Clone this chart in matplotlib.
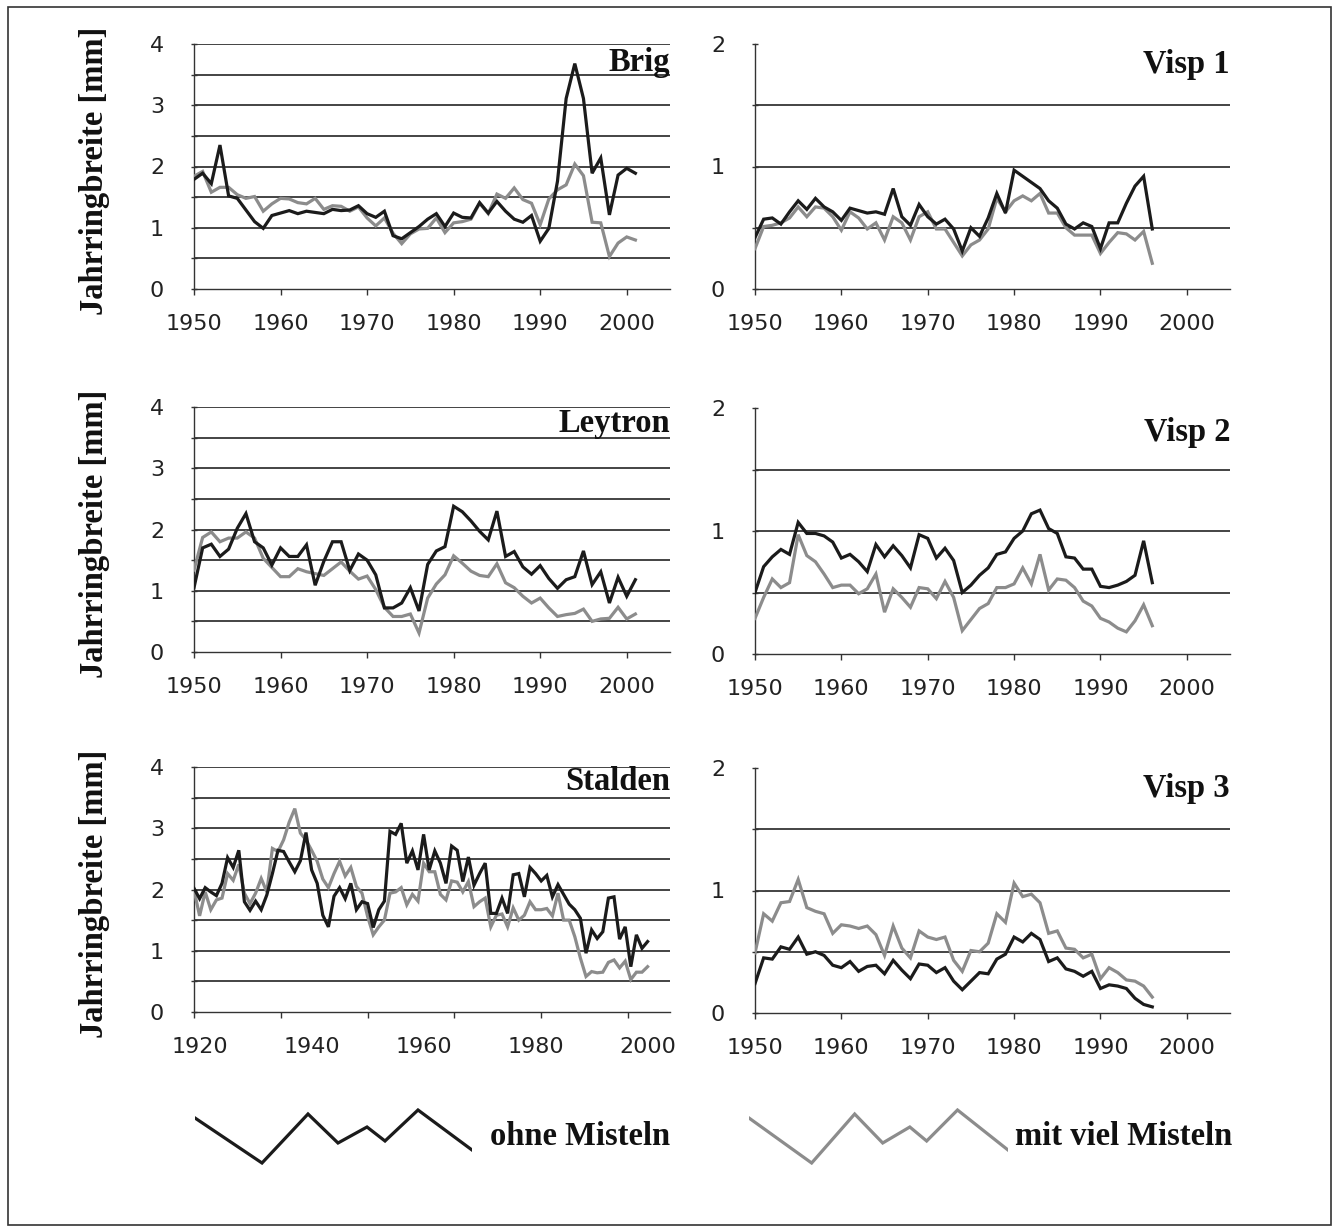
import numpy as np
import matplotlib
matplotlib.use("Agg")
import matplotlib.pyplot as plt
from matplotlib.patches import Rectangle

# ---- data (Jahrringbreite in mm) ----
years_brig = list(range(1950, 2002))
years_leytron = list(range(1950, 2002))
years_visp = list(range(1950, 1997))
years_stalden = list(range(1919, 2001))

brig_ohne = [1.79, 1.89, 1.72, 2.35, 1.52, 1.48, 1.29, 1.10, 0.99, 1.20,
             1.24, 1.28, 1.23, 1.27, 1.25, 1.23, 1.30, 1.28, 1.29, 1.36,
             1.23, 1.17, 1.27, 0.87, 0.82, 0.92, 1.02, 1.14, 1.23, 1.02,
             1.24, 1.17, 1.16, 1.41, 1.24, 1.43, 1.27, 1.14, 1.09, 1.20,
             0.78, 0.99, 1.76, 3.11, 3.68, 3.11, 1.89, 2.14, 1.21, 1.86,
             1.97, 1.89]
brig_mit = [1.84, 1.92, 1.58, 1.66, 1.66, 1.54, 1.48, 1.51, 1.27, 1.39,
            1.48, 1.47, 1.41, 1.39, 1.48, 1.30, 1.36, 1.35, 1.27, 1.34,
            1.16, 1.03, 1.16, 0.91, 0.74, 0.90, 0.98, 0.99, 1.16, 0.92,
            1.08, 1.10, 1.14, 1.40, 1.23, 1.55, 1.48, 1.65, 1.46, 1.40,
            1.05, 1.47, 1.62, 1.70, 2.04, 1.85, 1.09, 1.08, 0.53, 0.75,
            0.85, 0.80]

leytron_ohne = [1.05, 1.70, 1.76, 1.56, 1.68, 2.02, 2.26, 1.80, 1.70, 1.42,
                1.70, 1.56, 1.56, 1.75, 1.09, 1.48, 1.80, 1.80, 1.33, 1.60,
                1.50, 1.26, 0.72, 0.72, 0.80, 1.05, 0.67, 1.43, 1.65, 1.72,
                2.38, 2.29, 2.14, 1.97, 1.83, 2.30, 1.56, 1.64, 1.39, 1.27,
                1.41, 1.20, 1.04, 1.18, 1.23, 1.65, 1.10, 1.31, 0.80, 1.22,
                0.91, 1.18]
leytron_mit = [1.34, 1.87, 1.96, 1.80, 1.86, 1.86, 1.96, 1.86, 1.53, 1.38,
               1.23, 1.23, 1.36, 1.31, 1.28, 1.25, 1.36, 1.47, 1.32, 1.19,
               1.24, 1.02, 0.73, 0.58, 0.58, 0.62, 0.31, 0.88, 1.11, 1.26,
               1.57, 1.45, 1.32, 1.25, 1.23, 1.44, 1.13, 1.05, 0.91, 0.80,
               0.88, 0.72, 0.58, 0.61, 0.63, 0.70, 0.50, 0.54, 0.55, 0.73,
               0.54, 0.62]

stalden_ohne = [2.02, 1.85, 2.03, 1.96, 1.90, 2.10, 2.52, 2.36, 2.64, 1.80,
                1.66, 1.81, 1.67, 1.91, 2.26, 2.64, 2.62, 2.45, 2.29, 2.47,
                2.93, 2.32, 2.10, 1.58, 1.39, 1.89, 2.03, 1.85, 2.10, 1.67,
                1.80, 1.77, 1.38, 1.67, 1.81, 2.95, 2.90, 3.08, 2.43, 2.63,
                2.32, 2.90, 2.32, 2.63, 2.43, 2.10, 2.71, 2.64, 2.13, 2.53,
                2.07, 2.26, 2.43, 1.61, 1.61, 1.86, 1.61, 2.24, 2.26, 1.88,
                2.36, 2.26, 2.14, 2.23, 1.88, 2.08, 1.92, 1.76, 1.67, 1.53,
                0.96, 1.34, 1.20, 1.31, 1.86, 1.88, 1.19, 1.39, 0.74, 1.26,
                1.04, 1.15]
stalden_mit = [1.99, 1.57, 1.96, 1.67, 1.83, 1.86, 2.26, 2.15, 2.41, 1.94,
               1.77, 1.94, 2.18, 1.96, 2.67, 2.62, 2.81, 3.10, 3.32, 2.92,
               2.81, 2.64, 2.46, 2.17, 2.03, 2.26, 2.46, 2.22, 2.36, 2.05,
               1.94, 1.56, 1.26, 1.39, 1.50, 1.94, 1.96, 2.03, 1.75, 1.92,
               1.81, 2.43, 2.29, 2.29, 1.92, 1.83, 2.14, 2.12, 1.96, 2.13,
               1.72, 1.80, 1.86, 1.39, 1.58, 1.60, 1.39, 1.70, 1.50, 1.58,
               1.80, 1.67, 1.67, 1.69, 1.57, 1.94, 1.50, 1.50, 1.23, 0.88,
               0.58, 0.66, 0.64, 0.65, 0.81, 0.85, 0.72, 0.83, 0.53, 0.65,
               0.65, 0.74]

visp1_ohne = [0.42, 0.57, 0.58, 0.53, 0.63, 0.72, 0.65, 0.74, 0.67, 0.63,
              0.56, 0.66, 0.64, 0.62, 0.63, 0.61, 0.82, 0.59, 0.52, 0.69,
              0.59, 0.53, 0.57, 0.49, 0.31, 0.50, 0.43, 0.58, 0.78, 0.62,
              0.97, 0.92, 0.87, 0.82, 0.72, 0.66, 0.53, 0.49, 0.54, 0.51,
              0.33, 0.54, 0.54, 0.70, 0.84, 0.92, 0.49]
visp1_mit = [0.33, 0.51, 0.52, 0.54, 0.58, 0.67, 0.59, 0.67, 0.66, 0.59,
             0.48, 0.63, 0.58, 0.49, 0.54, 0.40, 0.59, 0.54, 0.40, 0.59,
             0.63, 0.49, 0.49, 0.38, 0.27, 0.36, 0.40, 0.49, 0.74, 0.63,
             0.72, 0.76, 0.72, 0.78, 0.62, 0.62, 0.50, 0.44, 0.44, 0.44,
             0.29, 0.38, 0.46, 0.45, 0.40, 0.47, 0.21]

visp2_ohne = [0.50, 0.71, 0.79, 0.85, 0.81, 1.07, 0.98, 0.98, 0.96, 0.91,
              0.78, 0.81, 0.75, 0.67, 0.89, 0.79, 0.88, 0.80, 0.70, 0.97,
              0.94, 0.78, 0.86, 0.76, 0.50, 0.56, 0.64, 0.70, 0.81, 0.83,
              0.94, 1.00, 1.14, 1.17, 1.02, 0.98, 0.79, 0.78, 0.69, 0.69,
              0.55, 0.54, 0.56, 0.59, 0.64, 0.92, 0.58]
visp2_mit = [0.29, 0.46, 0.61, 0.54, 0.58, 0.97, 0.80, 0.75, 0.65, 0.54,
             0.56, 0.56, 0.49, 0.53, 0.65, 0.34, 0.53, 0.46, 0.38, 0.54,
             0.53, 0.45, 0.59, 0.46, 0.19, 0.28, 0.37, 0.41, 0.54, 0.54,
             0.57, 0.70, 0.57, 0.81, 0.52, 0.61, 0.60, 0.54, 0.43, 0.39,
             0.29, 0.26, 0.21, 0.18, 0.27, 0.40, 0.23]

visp3_ohne = [0.24, 0.45, 0.44, 0.54, 0.52, 0.62, 0.48, 0.50, 0.47, 0.39,
              0.37, 0.42, 0.34, 0.38, 0.39, 0.32, 0.43, 0.35, 0.28, 0.40,
              0.39, 0.33, 0.37, 0.26, 0.19, 0.26, 0.33, 0.32, 0.44, 0.48,
              0.62, 0.58, 0.65, 0.60, 0.42, 0.45, 0.36, 0.34, 0.30, 0.34,
              0.20, 0.23, 0.22, 0.20, 0.12, 0.07, 0.05]
visp3_mit = [0.49, 0.81, 0.75, 0.90, 0.91, 1.09, 0.86, 0.83, 0.81, 0.65,
             0.72, 0.71, 0.69, 0.71, 0.64, 0.47, 0.71, 0.53, 0.45, 0.67,
             0.62, 0.60, 0.62, 0.43, 0.34, 0.51, 0.50, 0.57, 0.81, 0.74,
             1.06, 0.95, 0.97, 0.90, 0.65, 0.67, 0.53, 0.52, 0.45, 0.48,
             0.28, 0.37, 0.33, 0.27, 0.26, 0.22, 0.13]

decade_ticks = [1950, 1960, 1970, 1980, 1990, 2000]
decade_labels = ["1950", "1960", "1970", "1980", "1990", "2000"]
stalden_label_years = [1920, 1940, 1960, 1980, 2000]
stalden_labels = ["1920", "1940", "1960", "1980", "2000"]

# zigzag used as legend sample
legend_zz_x = [0, 67, 113, 143, 172, 190, 223, 277]
legend_zz_y = [47, 2, 51, 22, 38, 24, 55, 15]

# ---- styling ----
W, H = 1339, 1232
BLACK = "#1b1b1b"
GREY = "#8c8c8c"
LW = 2.3
SERIF = "Liberation Serif"
SANS = "DejaVu Sans"
TICKFS = 16

fig = plt.figure(figsize=(W / 100, H / 100), dpi=100)
fig.patch.set_facecolor("white")


def px_axes(left, top, right, bottom):
    return fig.add_axes([left / W, 1 - bottom / H, (right - left) / W, (bottom - top) / H])


def draw_panel(box, years, ohne, mit, ymax, title, title_base, xlim, xticks, xlabpos, xlabels):
    ax = px_axes(*box)
    ax.plot(years, mit, color=GREY, lw=LW, solid_joinstyle="miter", zorder=3)
    ax.plot(years, ohne, color=BLACK, lw=LW, solid_joinstyle="miter", zorder=4)
    ax.set_xlim(*xlim)
    ax.set_ylim(0, ymax)

    grid = np.arange(0.5, ymax + 0.01, 0.5)
    if ymax < 3:
        grid = grid[grid < ymax]
    for g in grid:
        ax.axhline(g, color="#111111", lw=1.1, zorder=1)

    for s in ["top", "right"]:
        ax.spines[s].set_visible(False)
    for s in ["left", "bottom"]:
        ax.spines[s].set_color("#333333")
        ax.spines[s].set_linewidth(1.0)

    ax.set_yticks(np.arange(0, ymax + 0.01, 1))
    ax.set_yticks(np.arange(0, ymax + 0.01, 0.5), minor=True)
    ax.tick_params(axis="y", which="both", direction="inout", length=5, width=1,
                   color="#333333", labelsize=TICKFS, labelcolor="#222222", pad=19)
    ax.tick_params(axis="y", which="minor", labelleft=False)

    if list(xticks) == list(xlabpos):
        ax.set_xticks(xticks, xlabels)
        ax.tick_params(axis="x", which="major", direction="out", length=4, width=1,
                       color="#333333", labelsize=TICKFS, labelcolor="#222222", pad=14)
    else:
        # labels placed independently from the tick marks
        ax.set_xticks(xlabpos, xlabels)
        ax.set_xticks(xticks, minor=True)
        ax.tick_params(axis="x", which="major", length=0, labelsize=TICKFS,
                       labelcolor="#222222", pad=18)
        ax.tick_params(axis="x", which="minor", direction="out", length=4, width=1,
                       color="#333333")
    for lab in ax.get_xticklabels() + ax.get_yticklabels():
        lab.set_fontfamily(SANS)

    fig.text(box[2] / W, 1 - title_base / H, title, ha="right", va="baseline",
             fontsize=23.5, fontweight="bold", fontfamily=SERIF, color="#111111")
    return ax


xl = (1950, 2005)

draw_panel((194, 44, 670, 289), years_brig, brig_ohne, brig_mit, 4, "Brig", 71,
           xl, decade_ticks, decade_ticks, decade_labels)
draw_panel((194, 407, 670, 652), years_leytron, leytron_ohne, leytron_mit, 4, "Leytron", 432,
           xl, decade_ticks, decade_ticks, decade_labels)
st_ticks = [1919 + 15.5 * k for k in range(6)]
draw_panel((194, 767, 670, 1012), years_stalden, stalden_ohne, stalden_mit, 4, "Stalden", 790,
           (1919, 2004), st_ticks, stalden_label_years, stalden_labels)
draw_panel((755, 44, 1230, 289), years_visp, visp1_ohne, visp1_mit, 2, "Visp 1", 73,
           xl, decade_ticks, decade_ticks, decade_labels)
draw_panel((755, 408, 1230, 654), years_visp, visp2_ohne, visp2_mit, 2, "Visp 2", 441,
           xl, decade_ticks, decade_ticks, decade_labels)
draw_panel((755, 768, 1230, 1013), years_visp, visp3_ohne, visp3_mit, 2, "Visp 3", 797,
           xl, decade_ticks, decade_ticks, decade_labels)

# y axis titles
for yc in [(44 + 289) / 2, (407 + 652) / 2, (767 + 1012) / 2]:
    fig.text(95 / W, 1 - (yc + 4) / H, "Jahrringbreite [mm]", rotation=90, ha="center", va="center",
             fontsize=23.5, fontweight="bold", fontfamily=SERIF, color="#111111")

# legend
for x0, width, col, label, tx in [(195, 277, BLACK, "ohne Misteln", 490),
                                  (749, 259, GREY, "mit viel Misteln", 1015)]:
    lax = px_axes(x0, 1108, x0 + width, 1165)
    lax.plot(legend_zz_x, legend_zz_y, color=col, lw=LW, solid_joinstyle="miter")
    lax.set_xlim(0, 277)
    lax.set_ylim(0, 57)
    lax.axis("off")
    fig.text(tx / W, 1 - 1145 / H, label, ha="left", va="baseline",
             fontsize=23.5, fontweight="bold", fontfamily=SERIF, color="#111111")

# outer frame
fig.patches.append(Rectangle((8 / W, 1 - 1225 / H), (1331 - 8) / W, (1225 - 7) / H,
                             transform=fig.transFigure, fill=False, edgecolor="#333333", lw=1.2))

fig.savefig("out.png", dpi=100)
